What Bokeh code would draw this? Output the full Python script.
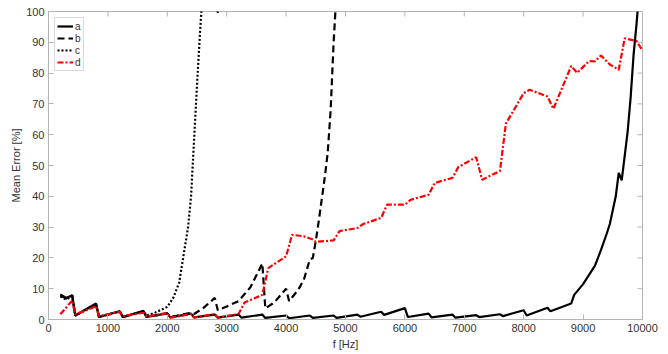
from bokeh.plotting import figure
from bokeh.models import Range1d, FixedTicker, Legend, LegendItem
from bokeh.embed import file_html
from bokeh.resources import INLINE

# ---- data ----
f_a = [200, 300, 400, 450, 800, 850, 1200, 1250, 1600, 1650, 2000, 2050, 2400, 2450,
       2800, 2850, 3200, 3250, 3600, 3650, 4000, 4050, 4400, 4450, 4800, 4850, 5200, 5250,
       5600, 5650, 6000, 6050, 6400, 6450, 6800, 6850, 7200, 7250, 7600, 7650, 8000, 8050,
       8400, 8450, 8800, 8850, 9000, 9200, 9300, 9400, 9450, 9550, 9600, 9650, 9750, 9800,
       9850, 9900, 10000]
err_a = [8.1, 7.0, 7.9, 1.3, 5.2, 0.8, 2.7, 0.8, 2.8, 0.8, 2.0, 0.7, 1.9, 0.7,
         1.6, 0.6, 1.6, 0.6, 1.6, 0.5, 1.3, 0.4, 1.3, 0.5, 1.3, 0.5, 1.6, 0.9,
         2.5, 1.5, 3.7, 0.8, 1.9, 0.7, 1.6, 0.6, 1.4, 0.8, 1.7, 1.1, 3.0, 1.3,
         3.8, 2.7, 5.2, 8.0, 11.5, 17.5, 22.5, 28.0, 31.0, 40.0, 47.6, 45.2, 61.0, 72.0,
         86.0, 96.0, 120.0]

f_b = [200, 300, 400, 450, 800, 850, 1200, 1250, 1600, 1650, 2000, 2050, 2400, 2450,
       2600, 2800, 2850, 3000, 3200, 3400, 3600, 3650, 3800, 4000, 4050, 4200, 4300, 4400,
       4450, 4500, 4550, 4600, 4650, 4700, 4750, 4800, 4830, 4900]
err_b = [7.8, 6.8, 7.8, 1.3, 5.0, 0.8, 2.6, 0.8, 2.6, 0.8, 2.0, 0.8, 2.2, 1.8,
         3.6, 7.0, 3.0, 4.2, 6.0, 10.5, 18.2, 3.6, 5.5, 10.0, 6.0, 9.5, 13.0, 19.5,
         20.0, 25.5, 32.0, 39.0, 46.0, 54.0, 68.0, 90.0, 100.0, 130.0]

f_c = [200, 300, 400, 450, 800, 850, 1200, 1250, 1600, 1650, 1800, 1950, 2000, 2100,
       2200, 2250, 2300, 2350, 2400, 2450, 2500, 2550, 2580, 2700, 2850, 2950]
err_c = [7.5, 6.5, 7.5, 1.3, 4.8, 0.8, 2.6, 0.8, 2.6, 1.2, 2.3, 3.6, 4.1, 7.0,
         12.0, 18.0, 24.0, 30.0, 40.0, 58.0, 76.0, 93.0, 102.0, 140.0, 99.5, 140.0]

f_d = [200, 400, 450, 800, 850, 1200, 1250, 1600, 1650, 2000, 2050, 2400, 2450, 2800,
       2850, 3200, 3300, 3600, 3700, 4000, 4100, 4300, 4450, 4500, 4800, 4900, 5200, 5300,
       5600, 5700, 6000, 6100, 6400, 6500, 6800, 6900, 7200, 7300, 7600, 7700, 8000, 8100,
       8400, 8500, 8800, 8900, 9100, 9200, 9300, 9450, 9600, 9700, 9900, 10000]
err_d = [1.7, 6.2, 1.6, 4.3, 1.1, 2.5, 1.1, 2.2, 1.0, 2.1, 0.6, 1.8, 0.6, 1.8,
         0.6, 1.8, 5.5, 8.0, 16.7, 20.5, 27.5, 27.0, 26.0, 25.2, 25.7, 28.7, 29.7, 31.0,
         33.0, 37.3, 37.3, 38.9, 40.5, 44.3, 46.0, 49.5, 52.7, 45.4, 48.2, 63.6, 73.5, 74.6,
         72.4, 68.4, 82.3, 80.1, 83.9, 83.8, 85.7, 82.8, 81.1, 91.3, 90.4, 87.3]

labels = ["a", "b", "c", "d"]
x_ticks = [0, 1000, 2000, 3000, 4000, 5000, 6000, 7000, 8000, 9000, 10000]
y_ticks = [0, 10, 20, 30, 40, 50, 60, 70, 80, 90, 100]

FONT = "Liberation Sans"
AX = "#b4b4b4"
TXT = "#333333"

p = figure(width=666, height=354, output_backend="svg", toolbar_location=None,
           x_range=Range1d(x_ticks[0], x_ticks[-1]), y_range=Range1d(y_ticks[0], y_ticks[-1]),
           min_border_left=48, min_border_right=24, min_border_top=11, min_border_bottom=35)
p.grid.visible = False
p.outline_line_color = AX
p.background_fill_color = "white"

for ax, ticks in ((p.xaxis[0], x_ticks), (p.yaxis[0], y_ticks)):
    ax.ticker = FixedTicker(ticks=ticks)
    ax.axis_line_color = AX
    ax.major_tick_line_color = AX
    ax.minor_tick_line_color = None
    ax.major_tick_in = 5
    ax.major_tick_out = 0
    ax.major_label_text_font = FONT
    ax.major_label_text_font_size = "11px"
    ax.major_label_text_color = TXT
    ax.axis_label_text_font = FONT
    ax.axis_label_text_font_size = "11px"
    ax.axis_label_text_font_style = "normal"
    ax.axis_label_text_color = TXT

p.xaxis[0].axis_label = "f [Hz]"
p.yaxis[0].axis_label = "Mean Error [%]"
p.xaxis[0].major_label_standoff = 4
p.xaxis[0].axis_label_standoff = 3
p.yaxis[0].major_label_standoff = 4
p.yaxis[0].axis_label_standoff = 1

# inward ticks on the top and right box edges (MATLAB style box)
xr = x_ticks[-1] - x_ticks[0]
yr = y_ticks[-1] - y_ticks[0]
tick_y = yr * 5 / 308.0
tick_x = xr * 5 / 594.0
p.segment(x0=x_ticks[1:-1], y0=[y_ticks[-1]] * (len(x_ticks) - 2),
          x1=x_ticks[1:-1], y1=[y_ticks[-1] - tick_y] * (len(x_ticks) - 2),
          line_color=AX, line_width=1)
p.segment(x0=[x_ticks[-1]] * (len(y_ticks) - 2), y0=y_ticks[1:-1],
          x1=[x_ticks[-1] - tick_x] * (len(y_ticks) - 2), y1=y_ticks[1:-1],
          line_color=AX, line_width=1)

ra = p.line(f_a, err_a, line_color="black", line_width=2.2)
rb = p.line(f_b, err_b, line_color="black", line_width=2.2, line_dash="7 4")
rc = p.line(f_c, err_c, line_color="black", line_width=2.2, line_dash="2 2")
rd = p.line(f_d, err_d, line_color="red", line_width=2.2, line_dash="6 2 2 2")

legend = Legend(items=[LegendItem(label=l, renderers=[r]) for l, r in zip(labels, [ra, rb, rc, rd])],
                location="top_left")
legend.label_text_font = FONT
legend.label_text_font_size = "10px"
legend.label_text_color = TXT
legend.label_standoff = 2
legend.label_height = 10
legend.label_width = 6
legend.glyph_width = 16
legend.glyph_height = 12
legend.spacing = 0
legend.padding = 2
legend.margin = 6
legend.border_line_color = AX
legend.background_fill_color = "white"
p.add_layout(legend, "center")

open("out.html", "w").write(file_html(p, INLINE))
